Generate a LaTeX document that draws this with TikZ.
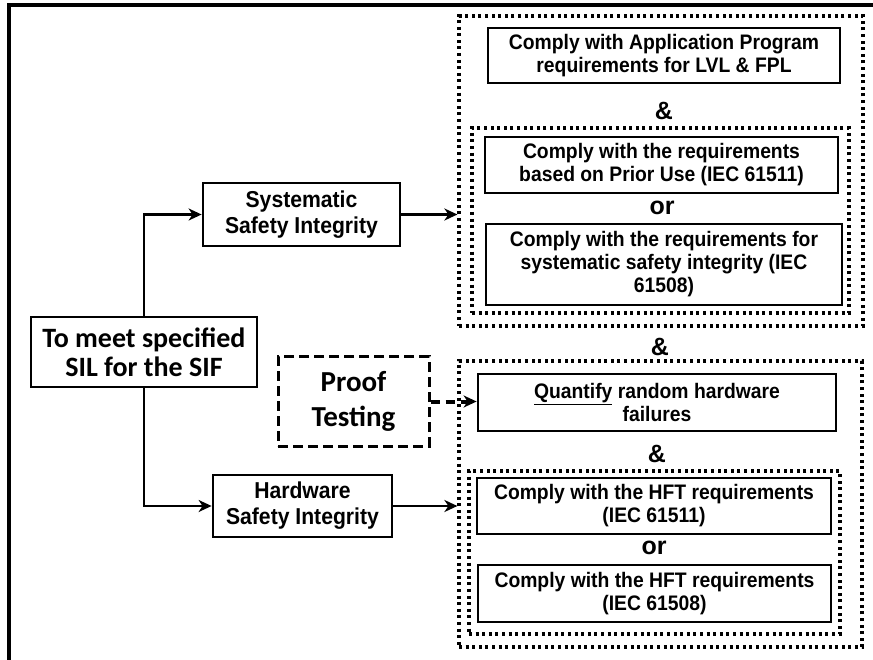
\documentclass[tikz,border=0pt]{standalone}
\usepackage{fontspec}
\setmainfont{Liberation Sans}
\newfontfamily\narrowfont[FakeStretch=0.92]{Liberation Sans}
\newfontfamily\calfont{Carlito}
\usetikzlibrary{arrows.meta}
\begin{document}
\begin{tikzpicture}[x=1pt,y=-1pt,
  box/.style={draw=black, line width=2.8pt, rectangle, inner sep=0pt, align=center,
    font=\narrowfont\bfseries\fontsize{21}{23}\selectfont},
  leftbox/.style={box, font=\narrowfont\bfseries\fontsize{23}{26}\selectfont},
  calbox/.style={box, font=\calfont\bfseries\fontsize{28}{29}\selectfont},
  dotbox/.style={draw=black, line width=3.2pt, dash pattern=on 3pt off 3.6pt, rectangle, inner sep=0pt},
  conj/.style={inner sep=0pt, font=\bfseries\fontsize{25}{26}\selectfont},
  arr/.style={line width=2.8pt, -{Stealth[length=13pt,width=12pt,inset=4pt]}},
]
\useasboundingbox (0,0) rectangle (873,660);
% outer frame
\coordinate (fbl) at (9,665);
\coordinate (ftl) at (9,5);
\coordinate (ftr) at (880,5);
\draw[line width=3.4pt] (fbl) -- (ftl) -- (ftr);

% dotted containers
\node[dotbox, minimum width=404pt, minimum height=310pt] (topouter) at (661,171) {};
\node[dotbox, minimum width=377pt, minimum height=185pt] (topinner) at (660.5,220.5) {};
\node[dotbox, minimum width=403pt, minimum height=286pt] (botouter) at (660.5,504) {};
\node[dotbox, minimum width=371pt, minimum height=163pt] (botinner) at (654.5,552.5) {};

% right boxes
\node[box, minimum width=352pt, minimum height=55pt] (app) at (664,55.5)
  {Comply with Application Program\\requirements for LVL \& FPL};
\node[conj] (amp1) at (664,111) {\&};
\node[box, minimum width=353pt, minimum height=56pt] (prior) at (661.5,165)
  {Comply with the requirements\\based on Prior Use (IEC 61511)};
\node[conj] (or1) at (662,208) {or};
\node[box, minimum width=356pt, minimum height=81pt] (sysint) at (664,264.5)
  {Comply with the requirements for\\systematic safety integrity (IEC\\61508)};
\node[conj] (amp2) at (660,347) {\&};
\node[box, minimum width=358pt, minimum height=57pt] (quant) at (657,402.5)
  {\underline{Quantify} random hardware\\failures};
\node[conj] (amp3) at (657,454) {\&};
\node[box, minimum width=354pt, minimum height=56pt] (hft1) at (654,506)
  {Comply with the HFT requirements\\(IEC 61511)};
\node[conj] (or2) at (654,548) {or};
\node[box, minimum width=353pt, minimum height=57pt] (hft2) at (654.5,593.5)
  {Comply with the HFT requirements\\(IEC 61508)};

% left boxes
\node[calbox, minimum width=226pt, minimum height=70pt] (sil) at (144,352)
  {To meet specified\\SIL for the SIF};
\node[leftbox, minimum width=197pt, minimum height=63pt] (sys) at (301.5,214.5)
  {Systematic\\Safety Integrity};
\node[leftbox, minimum width=179pt, minimum height=62pt] (hw) at (302.5,506)
  {Hardware\\Safety Integrity};
\node[box, dash pattern=on 10pt off 5pt, line width=3pt, minimum width=151pt, minimum height=89pt,
  font=\calfont\bfseries\fontsize{29}{35}\selectfont] (proof) at (353.5,401.5)
  {Proof\\Testing};

% connectors
\draw[arr] (sil.north) |- (sys.west);
\draw[arr] (sil.south) |- (hw.west);
\draw[arr] (sys.east) -- (sys.east -| topouter.west);
\draw[arr] (hw.east) -- (hw.east -| botouter.west);
\draw[arr, line width=4pt, dash pattern=on 9pt off 6pt] (proof.east) -- (proof.east -| quant.west);
\end{tikzpicture}
\end{document}
